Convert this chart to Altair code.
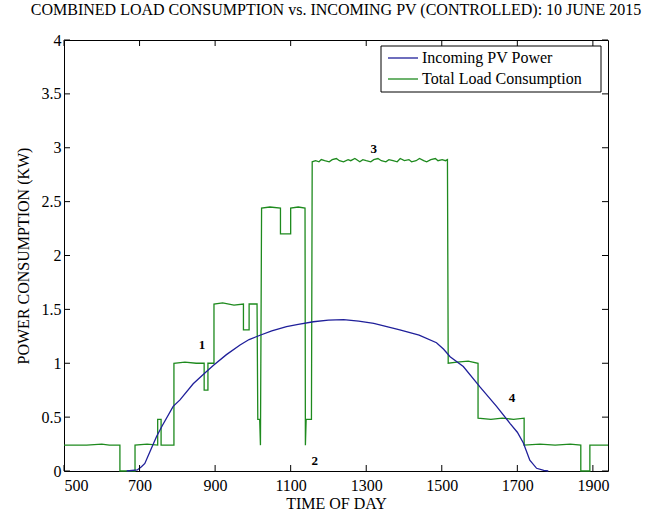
import altair as alt
import pandas as pd

# ---- data ----
load_time = [500, 560, 600, 620, 648, 648, 688, 688, 720, 748, 748, 757, 757, 791, 791, 820, 850, 871, 871, 881, 881, 897,
             897, 920, 950, 975, 975, 990, 990, 1011, 1013, 1018, 1020, 1023, 1045, 1073, 1073, 1100, 1100, 1120, 1138,
             1139, 1141, 1155, 1157, 1166, 1175, 1181, 1190, 1202, 1210, 1221, 1229, 1240, 1252, 1259, 1270, 1283,
             1291, 1300, 1312, 1320, 1331, 1340, 1352, 1360, 1371, 1382, 1390, 1401, 1413, 1420, 1432, 1441, 1452,
             1460, 1471, 1483, 1490, 1501, 1510, 1515, 1517, 1540, 1570, 1596, 1596, 1630, 1660, 1690, 1718, 1718,
             1760, 1800, 1840, 1868, 1868, 1892, 1892, 1940]
load_kw = [0.24, 0.24, 0.25, 0.24, 0.24, 0.0, 0.0, 0.24, 0.25, 0.24, 0.48, 0.48, 0.24, 0.24, 1.0, 1.01, 1.0, 1.0, 0.75, 0.75,
           1.0, 1.0, 1.55, 1.56, 1.54, 1.55, 1.31, 1.31, 1.55, 1.55, 0.48, 0.48, 0.24, 2.44, 2.45, 2.44, 2.2, 2.2, 2.44,
           2.45, 2.44, 0.24, 0.48, 0.48, 2.87, 2.88, 2.87, 2.89, 2.88, 2.87, 2.89, 2.90, 2.88, 2.87, 2.89, 2.88, 2.90,
           2.87, 2.89, 2.88, 2.87, 2.89, 2.90, 2.88, 2.87, 2.89, 2.88, 2.87, 2.90, 2.88, 2.89, 2.87, 2.88, 2.90, 2.88,
           2.87, 2.89, 2.90, 2.88, 2.89, 2.88, 2.89, 1.0, 1.01, 1.02, 1.0, 0.49, 0.48, 0.49, 0.48, 0.49, 0.24, 0.25,
           0.24, 0.25, 0.24, 0.0, 0.0, 0.24, 0.24]

pv_time = [666, 694, 705, 714, 730, 745, 760, 789, 807, 842, 870, 895, 930, 966, 990, 1019, 1050, 1089, 1120, 1160,
           1200, 1240, 1280, 1320, 1389, 1440, 1486, 1505, 1522, 1557, 1601, 1645, 1681, 1700, 1716, 1733, 1751,
           1770, 1782]
pv_kw = [0.0, 0.01, 0.04, 0.07, 0.2, 0.32, 0.42, 0.60, 0.66, 0.81, 0.90, 0.98, 1.08, 1.17, 1.22, 1.26, 1.30, 1.34,
         1.36, 1.385, 1.40, 1.405, 1.39, 1.37, 1.31, 1.26, 1.19, 1.13, 1.06, 0.97, 0.78, 0.60, 0.44, 0.36, 0.26,
         0.10, 0.025, 0.005, 0.0]

series_names = ["Incoming PV Power", "Total Load Consumption"]
ann_labels = ["1", "2", "3", "4"]
ann_time = [865, 1164, 1320, 1686]
ann_kw = [1.17, 0.09, 2.99, 0.68]

x_ticks = [500, 700, 900, 1100, 1300, 1500, 1700, 1900]
y_ticks = [0, 0.5, 1, 1.5, 2, 2.5, 3, 3.5, 4]

BLUE = "#1f1f9a"
GREEN = "#1e8a1e"
FONT = "Liberation Serif"
W, H = 544, 431

load_df = pd.DataFrame({"t": load_time, "kw": load_kw, "i": range(len(load_time))})
pv_df = pd.DataFrame({"t": pv_time, "kw": pv_kw, "i": range(len(pv_time))})
ann_df = pd.DataFrame({"lab": ann_labels, "t": ann_time, "kw": ann_kw})
xt_df = pd.DataFrame({"t": x_ticks})
yt_df = pd.DataFrame({"kw": y_ticks})

xs = alt.Scale(domain=[500, 1940], nice=False, zero=False)
ys = alt.Scale(domain=[0, 4], nice=False)

common = dict(labelFont=FONT, labelFontSize=16, labelColor="black", titleFont=FONT, titleFontSize=16,
              titleColor="black", titleFontWeight="normal", tickSize=0, grid=False, domain=False)
xax = alt.Axis(values=x_ticks, format="d", title="TIME OF DAY", labelPadding=6, titlePadding=2, **common)
yax = alt.Axis(values=y_ticks, format="~g", title="POWER CONSUMPTION (KW)", labelPadding=3, titlePadding=10,
               **common)

load_line = alt.Chart(load_df).mark_line(color=GREEN, strokeWidth=1.3).encode(
    x=alt.X("t:Q", scale=xs, axis=xax),
    y=alt.Y("kw:Q", scale=ys, axis=yax),
    order="i:Q",
)
pv_line = alt.Chart(pv_df).mark_line(color=BLUE, strokeWidth=1.3).encode(
    x=alt.X("t:Q", scale=xs),
    y=alt.Y("kw:Q", scale=ys),
    order="i:Q",
)
ann = alt.Chart(ann_df).mark_text(font=FONT, fontSize=13, fontWeight="bold", color="black").encode(
    x=alt.X("t:Q", scale=xs), y=alt.Y("kw:Q", scale=ys), text="lab:N"
)

tl = 6
bottom_ticks = alt.Chart(xt_df).mark_rule(color="black", strokeWidth=1).encode(
    x=alt.X("t:Q", scale=xs), y=alt.value(H), y2=alt.value(H - tl))
top_ticks = alt.Chart(xt_df).mark_rule(color="black", strokeWidth=1).encode(
    x=alt.X("t:Q", scale=xs), y=alt.value(0), y2=alt.value(tl))
left_ticks = alt.Chart(yt_df).mark_rule(color="black", strokeWidth=1).encode(
    y=alt.Y("kw:Q", scale=ys), x=alt.value(0), x2=alt.value(tl))
right_ticks = alt.Chart(yt_df).mark_rule(color="black", strokeWidth=1).encode(
    y=alt.Y("kw:Q", scale=ys), x=alt.value(W), x2=alt.value(W - tl))

# manual legend
leg_df = pd.DataFrame({"name": series_names})
LX0, LX1, LY0, LY1 = 317, 537, 6, 52
leg_box = alt.Chart(leg_df.head(1)).mark_rect(fill="white", stroke="black", strokeWidth=1).encode(
    x=alt.value(LX0), x2=alt.value(LX1), y=alt.value(LY0), y2=alt.value(LY1))
leg_items = []
for k, (nm, col) in enumerate(zip(series_names, [BLUE, GREEN])):
    yy = 18 + k * 21
    d = leg_df.iloc[[k]]
    leg_items.append(alt.Chart(d).mark_rule(color=col, strokeWidth=1.3).encode(
        x=alt.value(LX0 + 7), x2=alt.value(LX0 + 37), y=alt.value(yy)))
    leg_items.append(alt.Chart(d).mark_text(font=FONT, fontSize=16, align="left", baseline="middle",
                                             color="black").encode(
        x=alt.value(LX0 + 41), y=alt.value(yy), text="name:N"))

chart = alt.layer(
    load_line, pv_line, ann, bottom_ticks, top_ticks, left_ticks, right_ticks, leg_box, *leg_items
).properties(
    width=W, height=H,
    background="white",
    title=alt.TitleParams("COMBINED LOAD CONSUMPTION vs. INCOMING PV (CONTROLLED): 10 JUNE 2015",
                          font=FONT, fontSize=16, fontWeight="normal", color="black", offset=14, anchor="middle"),
    autosize=alt.AutoSizeParams(type="none"),
    padding={"left": 64, "top": 40, "right": 64, "bottom": 39},
).configure_view(stroke="black", strokeWidth=1)

chart.save("out.html", embed_options={"renderer": "svg", "actions": False})
